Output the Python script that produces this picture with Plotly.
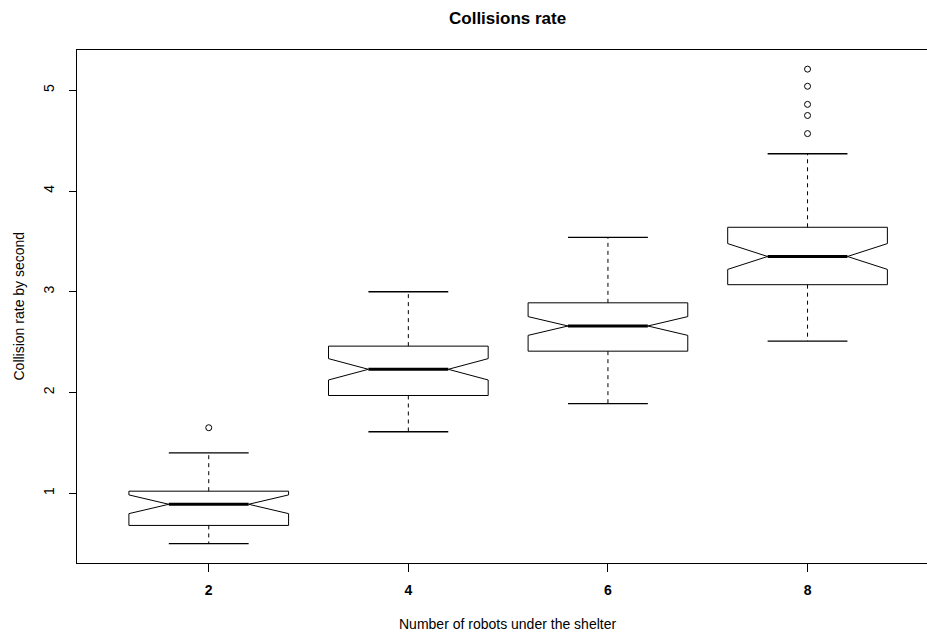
import plotly.graph_objects as go

# Summary statistics of collision rate per group (robots under the shelter)
groups = ["2", "4", "6", "8"]
lower_whisker = [0.50, 1.61, 1.89, 2.51]
q1 = [0.68, 1.97, 2.41, 3.07]
median = [0.89, 2.23, 2.66, 3.35]
q3 = [1.02, 2.46, 2.89, 3.64]
upper_whisker = [1.40, 3.00, 3.54, 4.37]
notch_half = [0.093, 0.106, 0.093, 0.128]
outliers = {
    "2": [1.65],
    "8": [5.21, 5.04, 4.86, 4.75, 4.57],
}

BOX_HALF = 0.4      # half width of each box, in x units
STAPLE_HALF = 0.2   # half width of the whisker caps

fig = go.Figure()

for i, g in enumerate(groups):
    x = i + 1
    lo_n = median[i] - notch_half[i]
    hi_n = median[i] + notch_half[i]
    w = BOX_HALF
    # notched box outline
    bx = [x - w, x - w, x - w / 2, x - w, x - w, x + w, x + w, x + w / 2, x + w, x + w, x - w]
    by = [q1[i], lo_n, median[i], hi_n, q3[i], q3[i], hi_n, median[i], lo_n, q1[i], q1[i]]
    fig.add_trace(go.Scatter(x=bx, y=by, mode="lines",
                             line=dict(color="black", width=1),
                             fill="toself", fillcolor="white",
                             hoverinfo="skip", showlegend=False))
    # whiskers (dashed)
    fig.add_trace(go.Scatter(x=[x, x, None, x, x],
                             y=[q3[i], upper_whisker[i], None, q1[i], lower_whisker[i]],
                             mode="lines",
                             line=dict(color="black", width=1, dash="4px,4px"),
                             hoverinfo="skip", showlegend=False))
    # whisker caps
    fig.add_trace(go.Scatter(x=[x - STAPLE_HALF, x + STAPLE_HALF, None, x - STAPLE_HALF, x + STAPLE_HALF],
                             y=[upper_whisker[i], upper_whisker[i], None, lower_whisker[i], lower_whisker[i]],
                             mode="lines",
                             line=dict(color="black", width=1.3),
                             hoverinfo="skip", showlegend=False))
    # median
    fig.add_trace(go.Scatter(x=[x - w / 2, x + w / 2], y=[median[i], median[i]],
                             mode="lines", line=dict(color="black", width=3),
                             hoverinfo="skip", showlegend=False))
    # outliers
    if g in outliers:
        fig.add_trace(go.Scatter(x=[x] * len(outliers[g]), y=outliers[g], mode="markers",
                                 marker=dict(symbol="circle-open", size=6, color="black",
                                             line=dict(width=1, color="black")),
                                 hoverinfo="skip", showlegend=False))

FONT = "Liberation Sans, Arial, Helvetica, sans-serif"
W, H = 927, 635
ML, MT, MB = 77, 50, 72

fig.update_layout(
    width=W, height=H,
    margin=dict(l=ML, r=0, t=MT, b=MB),
    paper_bgcolor="white", plot_bgcolor="white",
    font=dict(family=FONT, size=14, color="black"),
    xaxis=dict(
        range=[0.34, 0.34 + (W - ML) / 199.6],
        tickmode="array",
        tickvals=[1, 2, 3, 4],
        ticktext=["<b>%s</b>" % g for g in groups],
        ticks="outside", ticklen=8, tickwidth=1, tickcolor="black",
        showline=True, mirror=True, linecolor="black", linewidth=1,
        showgrid=False, zeroline=False,
        tickfont=dict(size=14, family=FONT),
        ticklabelstandoff=6,
    ),
    yaxis=dict(
        range=[0.307, 5.40],
        tickmode="array",
        tickvals=[1, 2, 3, 4, 5],
        ticktext=["1", "2", "3", "4", "5"],
        tickangle=-90,
        ticks="outside", ticklen=7, tickwidth=1, tickcolor="black",
        showline=True, mirror=False, linecolor="black", linewidth=1,
        showgrid=False, zeroline=False,
        tickfont=dict(size=14, family=FONT),
        ticklabelstandoff=9,
    ),
    annotations=[
        dict(text="<b>Collisions rate</b>", xref="paper", yref="paper",
             x=(507 - ML) / (W - ML), y=1, yshift=32, showarrow=False,
             xanchor="center", yanchor="middle", font=dict(size=17, family=FONT)),
        dict(text="Number of robots under the shelter", xref="paper", yref="paper",
             x=(507 - ML) / (W - ML), y=0, yshift=-61, showarrow=False,
             xanchor="center", yanchor="middle", font=dict(size=14, family=FONT)),
        dict(text="Collision rate by second", xref="paper", yref="paper",
             x=0, xshift=-59, y=0.5, showarrow=False, textangle=-90,
             xanchor="center", yanchor="middle", font=dict(size=14, family=FONT)),
    ],
)

fig.write_html("out.html")
